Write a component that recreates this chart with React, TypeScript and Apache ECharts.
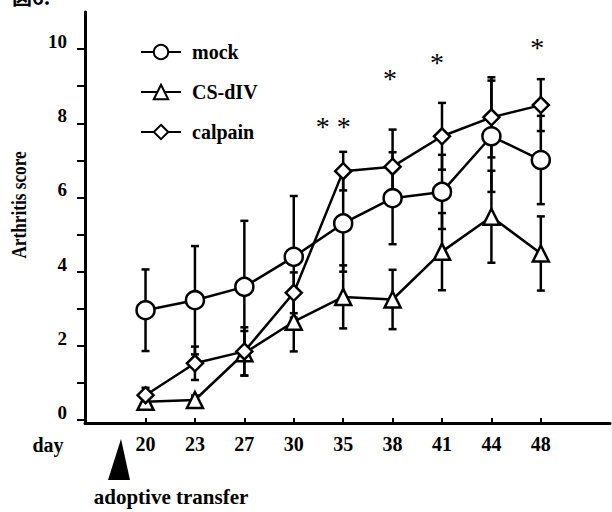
import React, { useEffect, useRef } from "react";
import * as echarts from "echarts";

const days = ["20", "23", "27", "30", "35", "38", "41", "44", "48"];
const mock = [2.96, 3.23, 3.59, 4.4, 5.3, 5.98, 6.15, 7.65, 7.01];
const mockErr = [1.1, 1.46, 1.78, 1.64, 1.3, 1.24, 1.0, 1.5, 1.19];
const csdiv = [0.49, 0.54, 1.8, 2.65, 3.32, 3.25, 4.54, 5.48, 4.49];
const csdivErr = [0.15, 0.12, 0.6, 0.8, 0.85, 0.8, 1.04, 1.24, 1.0];
const calpain = [0.67, 1.53, 1.85, 3.43, 6.71, 6.83, 7.65, 8.16, 8.49];
const calpainErr = [0.2, 0.45, 0.65, 0.55, 0.52, 1.0, 0.9, 1.08, 0.7];
const yTicks = [0, 1, 2, 3, 4, 5, 6, 7, 8, 9, 10];
const yLabels = [0, 2, 4, 6, 8, 10];
const sigX = [3.8, 4.95, 5.9, 7.93];
const sigY = [7.92, 9.2, 9.64, 10.03];
const sigText = ["* *", "*", "*", "*"];

const FONT = "'Liberation Serif', 'Times New Roman', serif";

const seriesDefs = [
  { name: "mock", values: mock, errs: mockErr, symbol: "circle", size: 18 },
  { name: "CS-dIV", values: csdiv, errs: csdivErr, symbol: "triangle", size: 16 },
  { name: "calpain", values: calpain, errs: calpainErr, symbol: "diamond", size: 16 },
];

export default function App() {
  const ref = useRef<HTMLDivElement>(null);
  useEffect(() => {
    if (!ref.current) return;
    const chart = echarts.init(ref.current, null, { renderer: "svg" });
    const series: any[] = [];
    seriesDefs.forEach((s) => {
      series.push({
        type: "custom",
        name: s.name + "-err",
        z: 1,
        silent: true,
        data: s.values.map((v, i) => [i, v, s.errs[i]]),
        renderItem: (params: any, api: any) => {
          const x = api.value(0);
          const y = api.value(1);
          const e = api.value(2);
          const top = api.coord([x, y + e]);
          const bot = api.coord([x, y - e]);
          const st = { stroke: "#000", lineWidth: 2.5 };
          const hw = 4;
          return {
            type: "group",
            children: [
              { type: "line", shape: { x1: top[0], y1: top[1], x2: bot[0], y2: bot[1] }, style: st },
              { type: "line", shape: { x1: top[0] - hw, y1: top[1], x2: top[0] + hw, y2: top[1] }, style: st },
              { type: "line", shape: { x1: bot[0] - hw, y1: bot[1], x2: bot[0] + hw, y2: bot[1] }, style: st },
            ],
          };
        },
      });
      series.push({
        type: "line",
        name: s.name,
        z: 3,
        data: s.values.map((v, i) => [i, v]),
        symbol: s.symbol,
        symbolSize: s.size,
        showAllSymbol: true,
        lineStyle: { color: "#000", width: 2.5 },
        itemStyle: { color: "#fff", borderColor: "#000", borderWidth: 2.5 },
      });
    });
    series.push({
      type: "scatter",
      name: "sig",
      z: 4,
      silent: true,
      symbolSize: 1,
      itemStyle: { color: "#000", opacity: 0 },
      label: {
        show: true,
        position: "inside",
        formatter: (p: any) => p.name,
        fontSize: 28,
        fontFamily: FONT,
        color: "#000",
        textBorderWidth: 0,
        textBorderColor: "transparent",
        opacity: 1,
      },
      data: sigX.map((x, i) => ({ name: sigText[i], value: [x, sigY[i]] })),
    });

    chart.setOption({
      animation: false,
      backgroundColor: "#fff",
      grid: { left: 85, right: 2, top: 12, bottom: 89, containLabel: false },
      legend: {
        orient: "vertical",
        left: 140,
        top: 42,
        padding: 0,
        itemWidth: 40,
        itemHeight: 18,
        itemGap: 20,
        data: ["mock", "CS-dIV", "calpain"],
        textStyle: {
          fontFamily: FONT,
          fontWeight: "bold",
          fontSize: 20,
          lineHeight: 20,
          color: "#000",
          padding: [0, 0, 0, 6],
        },
      },
      xAxis: {
        type: "value",
        min: -1.225,
        max: 9.4,
        axisLine: { onZero: false, lineStyle: { color: "#000", width: 3 } },
        axisTick: { show: true, inside: true, length: 5, customValues: days.map((_, i) => i), lineStyle: { color: "#000", width: 2 } },
        axisLabel: {
          customValues: days.map((_, i) => i),
          formatter: (v: number) => days[Math.round(v)] ?? "",
          margin: 11,
          fontFamily: FONT,
          fontWeight: "bold",
          fontSize: 20,
          color: "#000",
        },
        splitLine: { show: false },
      },
      yAxis: {
        type: "value",
        min: -0.08,
        max: 11,
        axisLine: { onZero: false, lineStyle: { color: "#000", width: 3 } },
        axisTick: { show: true, inside: false, length: 8, customValues: yTicks, lineStyle: { color: "#000", width: 2 } },
        axisLabel: {
          customValues: yLabels,
          margin: 18,
          fontFamily: FONT,
          fontWeight: "bold",
          fontSize: 19,
          lineHeight: 15,
          verticalAlign: "bottom",
          color: "#000",
        },
        splitLine: { show: false },
      },
      graphic: [
        { type: "text", left: 12, top: -14, style: { text: "図6.", font: "bold 20px 'Noto Sans CJK JP'", fill: "#000" } },
        {
          type: "text",
          x: 19,
          y: 205,
          rotation: Math.PI / 2,
          scaleX: 0.82,
          style: { text: "Arthritis score", font: "bold 21px " + FONT, fill: "#000", align: "center", verticalAlign: "middle" },
        },
        { type: "text", x: 48, y: 445, style: { text: "day", font: "bold 20px " + FONT, fill: "#000", align: "center", verticalAlign: "middle" } },
        { type: "polygon", shape: { points: [[108, 480], [130, 480], [121, 439]] }, style: { fill: "#000" } },
        { type: "text", x: 171, y: 497, style: { text: "adoptive transfer", font: "bold 21px " + FONT, fill: "#000", align: "center", verticalAlign: "middle" } },
      ],
      series,
    });
    return () => chart.dispose();
  }, []);
  return <div ref={ref} style={{ position: "fixed", left: 0, top: 0, width: 612, height: 512 }} />;
}
